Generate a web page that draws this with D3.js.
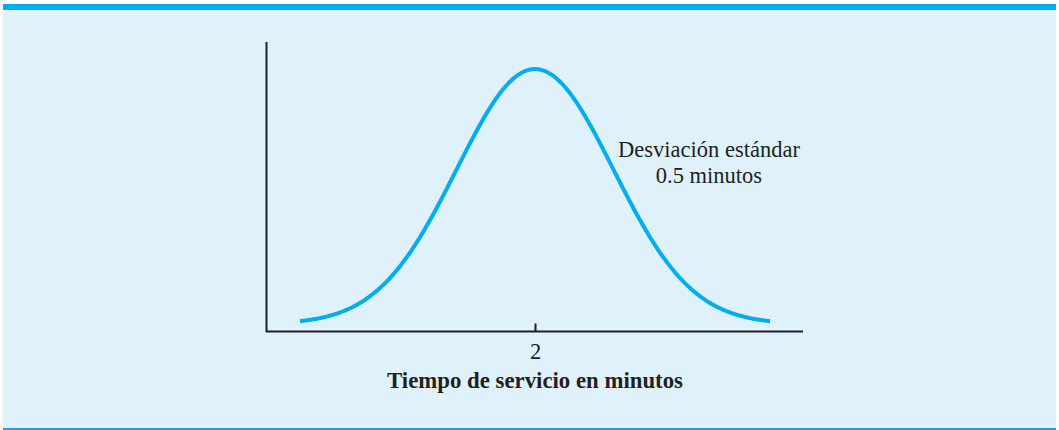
<!DOCTYPE html>
<html><head><meta charset="utf-8">
<script src="https://cdn.jsdelivr.net/npm/d3@7"></script>
<style>html,body{margin:0;padding:0;background:#fff;}svg{display:block;}</style>
</head><body>
<svg id="c" width="1059" height="430"></svg>
<script>
const mean = 2;
const sd = 0.5;
const xTicks = [2];
const xLabel = "Tiempo de servicio en minutos";
const noteLines = ["Desviación estándar", "0.5 minutos"];
const curveRange = [0.5, 3.5];

const svg = d3.select("#c");
svg.append("rect").attr("x",3).attr("y",4).attr("width",1053).attr("height",426).attr("fill","#dff2fb");
svg.append("rect").attr("x",3).attr("y",4).attr("width",1053).attr("height",6).attr("fill","#00aeef");
svg.append("rect").attr("x",3).attr("y",428).attr("width",1053).attr("height",2).attr("fill","#1aa6db");

const x = d3.scaleLinear().domain([mean - 269/156.7, mean + 268/156.7]).range([266, 803]);
const pdf = v => Math.exp(-0.5*((v-mean)/sd)**2)/(sd*Math.sqrt(2*Math.PI));
const y = d3.scaleLinear().domain([0, pdf(mean)]).range([324, 69]);

const pts = d3.range(curveRange[0], curveRange[1]+1e-9, 0.01).map(v => [v, pdf(v)]);
svg.append("path").datum(pts)
  .attr("d", d3.line().x(d=>x(d[0])).y(d=>y(d[1])).curve(d3.curveBasis))
  .attr("fill","none").attr("stroke","#00aeef").attr("stroke-width",4);

// axes
svg.append("line").attr("x1",266.5).attr("x2",266.5).attr("y1",42).attr("y2",332).attr("stroke","#231f20").attr("stroke-width",2);
const xAxis = d3.axisBottom(x).tickValues(xTicks).tickSize(0).tickFormat(d3.format("d"));
const gx = svg.append("g").attr("transform","translate(0,331.5)").call(xAxis);
gx.select(".domain").remove();
gx.append("line").attr("x1",266).attr("x2",803).attr("stroke","#231f20").attr("stroke-width",2);
gx.selectAll(".tick line").remove();
gx.selectAll(".tick").append("line").attr("y1",-8).attr("y2",0).attr("stroke","#231f20").attr("stroke-width",2);
gx.selectAll(".tick text").attr("y",12).attr("dy","0.71em").attr("fill","#231f20")
  .style("font-family","'Liberation Serif', serif").style("font-size","22.5px");

svg.append("text").attr("x",x(mean)).attr("y",388).attr("text-anchor","middle")
  .style("font-family","'Liberation Serif', serif").style("font-size","22.8px").style("font-weight","bold")
  .attr("fill","#231f20").text(xLabel);

svg.append("g").selectAll("text").data(noteLines).join("text")
  .attr("x",709).attr("y",(d,i)=>157+i*26).attr("text-anchor","middle")
  .style("font-family","'Liberation Serif', serif").style("font-size","22.5px").attr("fill","#231f20")
  .text(d=>d);
</script>
</body></html>
